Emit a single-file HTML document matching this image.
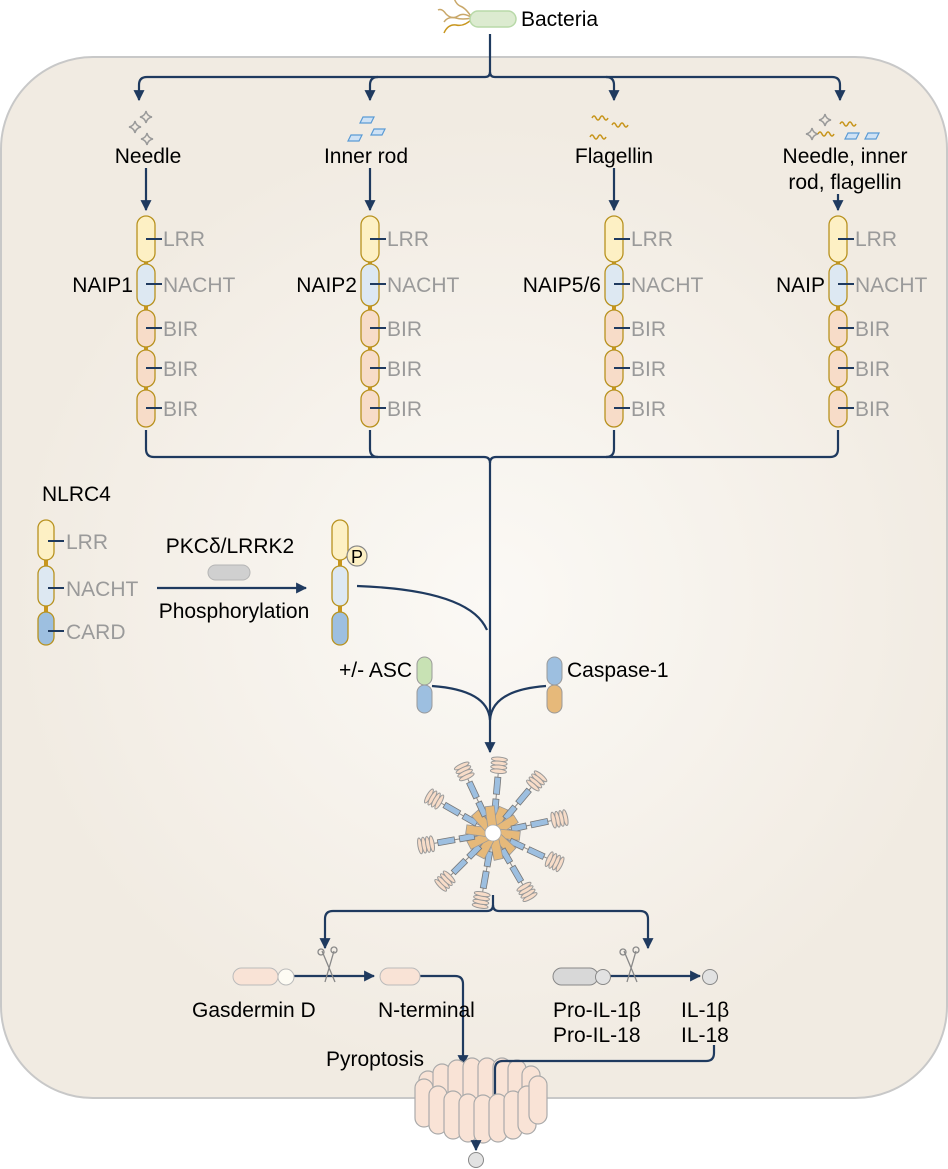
<!DOCTYPE html>
<html><head><meta charset="utf-8"><style>
html,body{margin:0;padding:0;background:#fff;}
svg{display:block;font-family:"Liberation Sans",Arial,sans-serif;}
</style></head><body>
<svg width="948" height="1169" viewBox="0 0 948 1169" xmlns="http://www.w3.org/2000/svg">
<defs>
<radialGradient id="bg" cx="490" cy="600" r="480" gradientUnits="userSpaceOnUse">
<stop offset="0" stop-color="#fbf9f5"/><stop offset="1" stop-color="#f1ebe2"/>
</radialGradient>
<marker id="ar" viewBox="0 0 10 10" refX="9" refY="5" markerWidth="5" markerHeight="5" orient="auto" markerUnits="strokeWidth">
<path d="M0,0 L10,5 L0,10 z" fill="#1f3a5f"/></marker>
<g id="naip">
<line x1="0" y1="216" x2="0" y2="427" stroke="#c8961e" stroke-width="4"/>
<rect x="-9" y="216" width="18" height="46" rx="9" fill="#fdf0c4" stroke="#b8921f" stroke-width="1.3"/>
<rect x="-9" y="264" width="18" height="42" rx="9" fill="#dde8f2" stroke="#b8921f" stroke-width="1.3"/>
<rect x="-9" y="310" width="18" height="37" rx="9" fill="#f7dcc8" stroke="#b8921f" stroke-width="1.3"/>
<rect x="-9" y="350" width="18" height="37" rx="9" fill="#f7dcc8" stroke="#b8921f" stroke-width="1.3"/>
<rect x="-9" y="390" width="18" height="37" rx="9" fill="#f7dcc8" stroke="#b8921f" stroke-width="1.3"/>
<g stroke="#1f3a5f" stroke-width="2">
<line x1="0" y1="239" x2="16" y2="239"/><line x1="0" y1="284" x2="16" y2="284"/>
<line x1="0" y1="328" x2="16" y2="328"/><line x1="0" y1="368" x2="16" y2="368"/><line x1="0" y1="408" x2="16" y2="408"/></g>
<g fill="#9a9a9a" font-size="21">
<text x="17" y="246">LRR</text><text x="17" y="292">NACHT</text>
<text x="17" y="336">BIR</text><text x="17" y="376">BIR</text><text x="17" y="416">BIR</text></g>
</g>
<g id="spark" fill="none" stroke="#9a9a9a" stroke-width="1.5"><path d="M0,-6 Q1,-1 6,0 Q1,1 0,6 Q-1,1 -6,0 Q-1,-1 0,-6z"/></g>
<g id="rod" fill="#cfe2f5" stroke="#5b9bd5" stroke-width="1.2"><path d="M-4,-3 L7,-3 L4,3 L-7,3 z"/></g>
<g id="wig" fill="none" stroke="#c8961e" stroke-width="1.5"><path d="M-8,0 q2,-4 4,0 t4,0 t4,0 t4,0"/></g>
<g id="coil" fill="#f7dcc8" stroke="#999" stroke-width="1"><ellipse cx="-6" cy="0" rx="2.2" ry="8"/><ellipse cx="-2" cy="0" rx="2.2" ry="8"/><ellipse cx="2" cy="0" rx="2.2" ry="8"/><ellipse cx="6" cy="0" rx="2.2" ry="8"/></g>
<g id="spoke"><line x1="0" y1="0" x2="0" y2="-62" stroke="#888" stroke-width="1"/>
<rect x="-3" y="-34" width="6" height="15" fill="#9dbfe0" stroke="#777" stroke-width="0.8"/>
<rect x="-3" y="-56" width="6" height="17" fill="#9dbfe0" stroke="#777" stroke-width="0.8"/>
<g transform="translate(0,-68) rotate(90)"><use href="#coil"/></g>
<rect x="-4.5" y="-27" width="9" height="24" fill="#e6b97a" stroke="#999" stroke-width="0.8" transform="rotate(18)"/></g>
<g id="poreU"><rect x="-9" y="-24" width="18" height="48" rx="9" fill="#f9e3d6" stroke="#aaa" stroke-width="1.2"/></g>
</defs>

<rect x="1" y="57" width="946" height="1041" rx="92" fill="url(#bg)" stroke="#c8c8c8" stroke-width="2"/>

<!-- Bacteria -->
<g fill="none" stroke-width="1.5">
<path d="M472,18 q-8,-6 -14,-2 q-6,4 -12,-2 q-4,-6 -8,-4" stroke="#c9a86a"/>
<path d="M472,18 q-10,2 -16,0 q-8,-2 -12,4" stroke="#c9a86a"/>
<path d="M472,19 q-8,8 -16,6 q-8,-1 -12,8" stroke="#c8961e"/>
<path d="M472,18 q-6,-10 -12,-12 q-4,-2 -6,-8" stroke="#c9a86a"/>
</g>
<rect x="470" y="11" width="46" height="16" rx="8" fill="#dcebd0" stroke="#b8d9a8" stroke-width="1.5"/>
<text x="521" y="26" font-size="21">Bacteria</text>

<!-- top branches -->
<g fill="none" stroke="#1f3a5f" stroke-width="2.2">
<path d="M490,34 V72 q0,5 -5,5 H147 q-8,0 -8,8 V100" marker-end="url(#ar)"/>
<path d="M490,72 q0,5 5,5 H832 q8,0 8,8 V100" marker-end="url(#ar)"/>
<path d="M378,77 q-8,0 -8,8 V100" marker-end="url(#ar)"/>
<path d="M606,77 q8,0 8,8 V100" marker-end="url(#ar)"/>
<path d="M146,168 V210" marker-end="url(#ar)"/>
<path d="M370,168 V210" marker-end="url(#ar)"/>
<path d="M614,168 V210" marker-end="url(#ar)"/>
<path d="M838,194 V210" marker-end="url(#ar)"/>
</g>
<use href="#spark" x="146" y="117"/><use href="#spark" x="135" y="127"/><use href="#spark" x="147" y="139"/>
<use href="#rod" x="367" y="120"/><use href="#rod" x="355" y="138"/><use href="#rod" x="378" y="132"/>
<use href="#wig" x="600" y="118"/><use href="#wig" x="620" y="125"/><use href="#wig" x="598" y="137"/>
<use href="#spark" x="825" y="120"/><use href="#spark" x="812" y="134"/><use href="#wig" x="848" y="124"/><use href="#wig" x="826" y="134"/><use href="#rod" x="852" y="136"/><use href="#rod" x="872" y="136"/>
<g font-size="21" text-anchor="middle">
<text x="148" y="163">Needle</text><text x="366" y="163">Inner rod</text><text x="614" y="163">Flagellin</text>
<text x="845" y="163">Needle, inner</text><text x="845" y="189">rod, flagellin</text></g>

<use href="#naip" x="146"/><use href="#naip" x="370"/><use href="#naip" x="614"/><use href="#naip" x="838"/>
<g font-size="21" text-anchor="end">
<text x="133" y="292">NAIP1</text><text x="357" y="292">NAIP2</text><text x="601" y="292">NAIP5/6</text><text x="825" y="292">NAIP</text></g>

<!-- merge -->
<g fill="none" stroke="#1f3a5f" stroke-width="2.2">
<path d="M146,430 V449 q0,8 8,8 H484 q6,0 6,6"/>
<path d="M370,430 V449 q0,8 8,8"/>
<path d="M614,430 V449 q0,8 -8,8"/>
<path d="M838,430 V449 q0,8 -8,8 H496 q-6,0 -6,6"/>
<path d="M490,463 V752" marker-end="url(#ar)"/>
<path d="M357,586 Q470,590 487,630"/>
<path d="M432,686 Q488,690 490,720"/>
<path d="M546,686 Q492,690 490,720"/>
<path d="M157,588 H306" marker-end="url(#ar)"/>
</g>

<!-- NLRC4 -->
<text x="42" y="501" font-size="21">NLRC4</text>
<line x1="46" y1="520" x2="46" y2="645" stroke="#c8961e" stroke-width="4"/>
<rect x="38" y="520" width="16" height="40" rx="8" fill="#fdf0c4" stroke="#b8921f" stroke-width="1.3"/>
<rect x="38" y="566" width="16" height="40" rx="8" fill="#dde8f2" stroke="#b8921f" stroke-width="1.3"/>
<rect x="38" y="612" width="16" height="33" rx="8" fill="#9dbfe0" stroke="#b8921f" stroke-width="1.3"/>
<g stroke="#1f3a5f" stroke-width="2"><line x1="48" y1="541" x2="64" y2="541"/><line x1="48" y1="588" x2="64" y2="588"/><line x1="48" y1="631" x2="64" y2="631"/></g>
<g fill="#9a9a9a" font-size="21"><text x="66" y="549">LRR</text><text x="66" y="596">NACHT</text><text x="66" y="639">CARD</text></g>
<text x="230" y="553" font-size="21" text-anchor="middle">PKCδ/LRRK2</text>
<rect x="208" y="565" width="42" height="15" rx="7.5" fill="#d0d0d0" stroke="#b5b5b5"/>
<text x="234" y="618" font-size="21" text-anchor="middle">Phosphorylation</text>

<line x1="340" y1="520" x2="340" y2="645" stroke="#c8961e" stroke-width="4"/>
<rect x="332" y="520" width="16" height="40" rx="8" fill="#fdf0c4" stroke="#b8921f" stroke-width="1.3"/>
<rect x="332" y="566" width="16" height="40" rx="8" fill="#dde8f2" stroke="#b8921f" stroke-width="1.3"/>
<rect x="332" y="612" width="16" height="33" rx="8" fill="#9dbfe0" stroke="#b8921f" stroke-width="1.3"/>
<circle cx="357" cy="556" r="10" fill="#fdf0c4" stroke="#888" stroke-width="1.2"/>
<text x="357" y="563" font-size="18" text-anchor="middle">P</text>

<!-- ASC, Caspase -->
<rect x="417" y="657" width="15" height="28" rx="7.5" fill="#c8e2b4" stroke="#999"/>
<rect x="417" y="685" width="15" height="28" rx="7.5" fill="#9dbfe0" stroke="#999"/>
<text x="412" y="677" font-size="21" text-anchor="end">+/- ASC</text>
<rect x="547" y="657" width="15" height="28" rx="7.5" fill="#9dbfe0" stroke="#999"/>
<rect x="547" y="685" width="15" height="28" rx="7.5" fill="#e6b97a" stroke="#999"/>
<text x="567" y="677" font-size="21">Caspase-1</text>

<!-- inflammasome -->
<g transform="translate(493,833)">
<use href="#spoke" transform="rotate(5)"/><use href="#spoke" transform="rotate(40)"/><use href="#spoke" transform="rotate(78)"/>
<use href="#spoke" transform="rotate(115)"/><use href="#spoke" transform="rotate(150)"/><use href="#spoke" transform="rotate(190)"/>
<use href="#spoke" transform="rotate(225)"/><use href="#spoke" transform="rotate(260)"/><use href="#spoke" transform="rotate(300)"/><use href="#spoke" transform="rotate(335)"/>
<circle r="8" fill="#fff" stroke="#aaa" stroke-width="0.8"/>
</g>

<!-- bottom -->
<g fill="none" stroke="#1f3a5f" stroke-width="2.2">
<path d="M493,895 V905 q0,6 -6,6 H333 q-8,0 -8,8 V948" marker-end="url(#ar)"/>
<path d="M493,905 q0,6 6,6 H640 q8,0 8,8 V948" marker-end="url(#ar)"/>
<path d="M294,976 H374" marker-end="url(#ar)"/>
<path d="M420,976 H455 q8,0 8,8 V1065" marker-end="url(#ar)"/>
<path d="M607,976 H700" marker-end="url(#ar)"/>
</g>
<rect x="233" y="968" width="45" height="17" rx="8.5" fill="#f9e3d6" stroke="#bbb"/>
<circle cx="286" cy="977" r="8" fill="#fdfbf3" stroke="#bbb"/>
<rect x="380" y="968" width="40" height="17" rx="8.5" fill="#f9e3d6" stroke="#bbb"/>
<rect x="553" y="968" width="45" height="17" rx="8.5" fill="#d8d8d8" stroke="#888"/>
<circle cx="603" cy="977" r="7.5" fill="#e2e2e2" stroke="#888"/>
<circle cx="710" cy="977" r="7.5" fill="#e2e2e2" stroke="#888"/>
<g fill="none" stroke="#888" stroke-width="1.3">
<path d="M322,951 L335,982 M334,951 L325,982"/><circle cx="321" cy="952" r="3"/><circle cx="334" cy="950" r="3"/>
<path d="M624,951 L637,982 M636,951 L627,982"/><circle cx="623" cy="952" r="3"/><circle cx="636" cy="950" r="3"/>
</g>
<g font-size="21">
<text x="192" y="1017">Gasdermin D</text><text x="378" y="1017">N-terminal</text>
<text x="553" y="1017">Pro-IL-1β</text><text x="553" y="1042">Pro-IL-18</text>
<text x="681" y="1017">IL-1β</text><text x="681" y="1042">IL-18</text>
<text x="326" y="1066">Pyroptosis</text></g>

<!-- pore -->
<g>
<use href="#poreU" x="428" y="1095"/><use href="#poreU" x="442" y="1088"/><use href="#poreU" x="457" y="1084"/><use href="#poreU" x="472" y="1082"/>
<use href="#poreU" x="487" y="1082"/><use href="#poreU" x="502" y="1082"/><use href="#poreU" x="517" y="1084"/><use href="#poreU" x="531" y="1090"/>
</g>
<path d="M714,1045 V1053 q0,8 -8,8 H503 q-8,0 -8,8 V1110" fill="none" stroke="#1f3a5f" stroke-width="2.2"/>
<g>
<use href="#poreU" x="424" y="1103"/><use href="#poreU" x="438" y="1110"/><use href="#poreU" x="453" y="1115"/><use href="#poreU" x="468" y="1118"/>
<use href="#poreU" x="483" y="1119"/><use href="#poreU" x="498" y="1118"/><use href="#poreU" x="513" y="1115"/><use href="#poreU" x="527" y="1110"/><use href="#poreU" x="538" y="1100"/>
</g>
<path d="M476,1140 V1150" fill="none" stroke="#1f3a5f" stroke-width="2.2" marker-end="url(#ar)"/>
<circle cx="476" cy="1160" r="7.5" fill="#e2e2e2" stroke="#888"/>
</svg>
</body></html>
